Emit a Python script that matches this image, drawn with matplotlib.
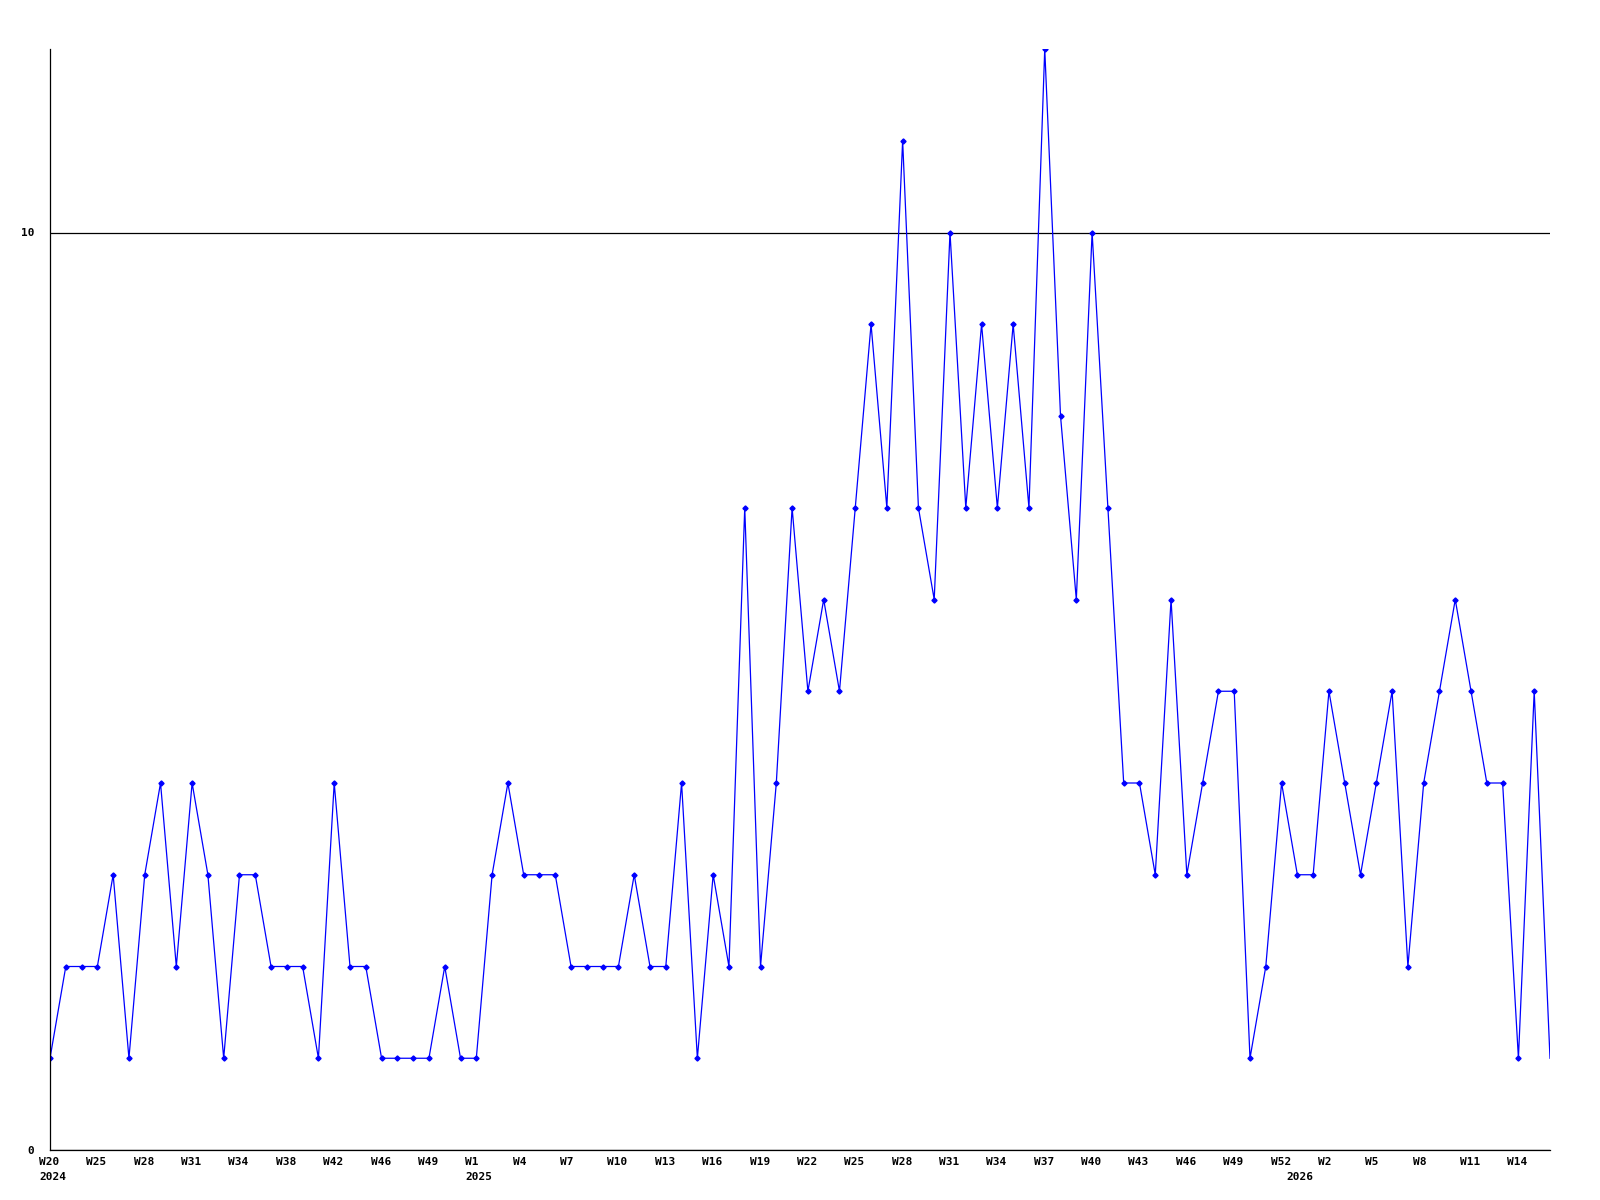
import matplotlib
matplotlib.use('Agg')
import matplotlib.pyplot as plt
from matplotlib.transforms import ScaledTranslation

# weekly counts, 2024 W20 .. 2026 W15
values = [1, 2, 2, 2, 3, 1, 3, 4, 2, 4, 3, 1, 3, 3, 2, 2, 2, 1, 4, 2, 2, 1, 1, 1,
          1, 2, 1, 1, 3, 4, 3, 3, 3, 2, 2, 2, 2, 3, 2, 2, 4, 1, 3, 2, 7, 2, 4, 7,
          5, 6, 5, 7, 9, 7, 11, 7, 6, 10, 7, 9, 7, 9, 7, 12, 8, 6, 10, 7, 4, 4,
          3, 6, 3, 4, 5, 5, 1, 2, 4, 3, 3, 5, 4, 3, 4, 5, 2, 4, 5, 6, 5, 4, 4, 1,
          5, 1]
week_labels = ['W20', 'W25', 'W28', 'W31', 'W34', 'W38', 'W42', 'W46', 'W49',
               'W1', 'W4', 'W7', 'W10', 'W13', 'W16', 'W19', 'W22', 'W25', 'W28',
               'W31', 'W34', 'W37', 'W40', 'W43', 'W46', 'W49', 'W52', 'W2', 'W5',
               'W8', 'W11', 'W14']
label_step = 3
years = ['2024', '2025', '2026']
year_pos = [0, 27, 79]
y_ticks = [0, 10]

FONT = dict(family='DejaVu Sans Mono', weight='bold', size=8)

fig = plt.figure(figsize=(16, 12), dpi=100)
ax = fig.add_axes([50 / 1600, 1 - 1150 / 1200, 1500 / 1600, 1101 / 1200])

x = list(range(len(values)))
ax.plot(x, values, color='#0000ff', lw=0.9, marker='D', markersize=2.6,
        markevery=list(range(len(values) - 1)))

ax.set_xlim(0, len(values) - 1)
ax.set_ylim(0, 12)

ax.set_xticks(x[::label_step])
ax.set_xticklabels(week_labels, **FONT)
ax.set_yticks(y_ticks)
ax.set_yticklabels([str(v) for v in y_ticks], **FONT)
ax.tick_params(axis='x', length=0, pad=5)
ax.tick_params(axis='y', length=0, pad=11.5)

# labels start a little left of their week, left aligned
shift = ScaledTranslation(-11 / 100, 0, fig.dpi_scale_trans)
for lab in ax.get_xticklabels():
    lab.set_ha('left')
    lab.set_transform(lab.get_transform() + shift)

ax.yaxis.grid(True, color='black', lw=0.9)
ax.set_axisbelow(True)

for s in ['top', 'right']:
    ax.spines[s].set_visible(False)
for s in ['left', 'bottom']:
    ax.spines[s].set_color('black')
    ax.spines[s].set_linewidth(0.9)

# year under the first week label of each year
for yr, pos in zip(years, year_pos):
    ax.annotate(yr, xy=(pos, 0), xycoords='data', xytext=(-7.9, -15.5),
                textcoords='offset points', ha='left', va='top',
                annotation_clip=False, **FONT)

fig.savefig('out.png', dpi=100, facecolor='white')
